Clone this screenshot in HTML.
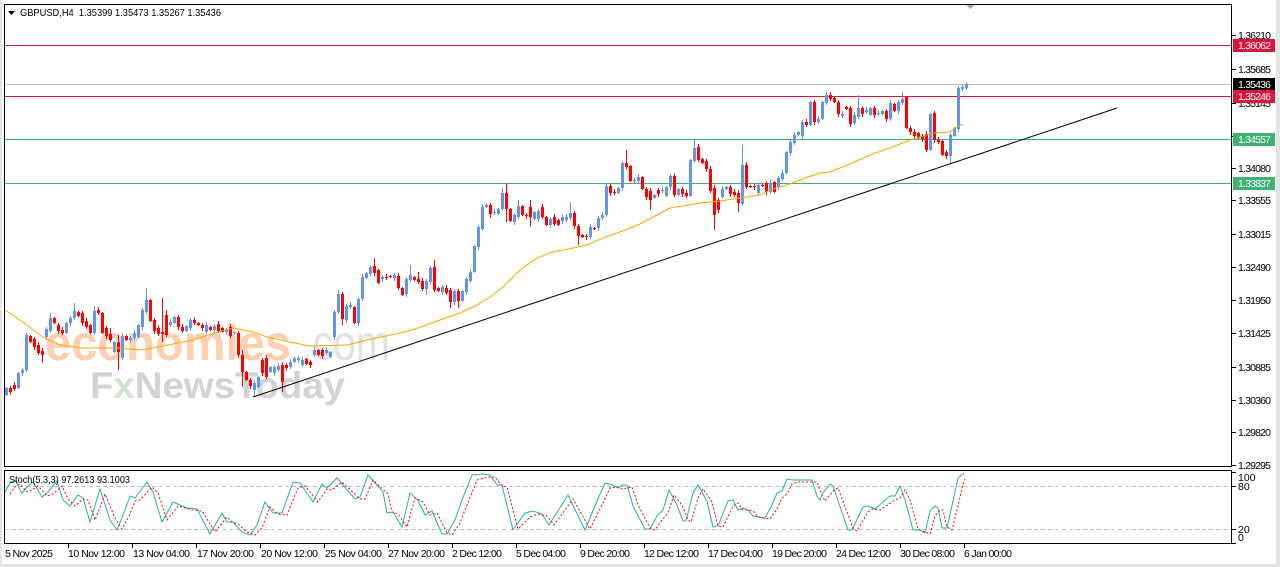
<!DOCTYPE html>
<html><head><meta charset="utf-8">
<style>
html,body{margin:0;padding:0;background:#fff;width:1280px;height:567px;overflow:hidden}
svg{display:block}
text{font-family:"Liberation Sans",Arial,sans-serif;font-size:10.5px;fill:#000}
</style></head><body>
<svg width="1280" height="567" viewBox="0 0 1280 567">
<defs>
<clipPath id="cm"><rect x="4" y="4" width="1228" height="463"/></clipPath>
<clipPath id="cs"><rect x="4" y="471" width="1228" height="73"/></clipPath>
</defs>
<rect width="1280" height="567" fill="#fff"/>
<rect x="0" y="0" width="2" height="567" fill="#e4e4e4"/>
<rect x="1276" y="0" width="4" height="567" fill="#e4e4e4"/>
<rect x="0" y="564" width="1280" height="3" fill="#e4e4e4"/>

<!-- watermark -->
<text x="45" y="360" textLength="246" lengthAdjust="spacingAndGlyphs" style="font-size:50px;font-weight:bold;fill:#fcd0b0">economies</text>
<text x="301" y="360" textLength="89" lengthAdjust="spacingAndGlyphs" style="font-size:50px;fill:#e2e2e2">.com</text>
<text x="90" y="398" textLength="255" lengthAdjust="spacingAndGlyphs" style="font-size:37px;font-weight:bold;fill:#d3d3d3">F<tspan style="fill:#cfe3cf">x</tspan>NewsToday</text>

<!-- horizontal levels -->
<g shape-rendering="crispEdges">
<line x1="4" y1="45.5" x2="1232" y2="45.5" stroke="#dc143c"/>
<line x1="4" y1="84.5" x2="1232" y2="84.5" stroke="#c0c0c0"/>
<line x1="4" y1="96.5" x2="1232" y2="96.5" stroke="#dc143c"/>
<line x1="4" y1="139.5" x2="1232" y2="139.5" stroke="#3cb371"/>
<line x1="4" y1="183.5" x2="1232" y2="183.5" stroke="#3cb371"/>
</g>

<!-- candles -->
<g clip-path="url(#cm)" shape-rendering="crispEdges">
<path id="bw" d="" stroke="#6495ed" stroke-width="1" fill="none"/>
<path id="rw" d="" stroke="#ff0000" stroke-width="1" fill="none"/>
<path id="bb" d="" fill="#6495ed"/>
<path id="rb" d="" fill="#ff0000"/>
</g>

<!-- MA -->
<polyline clip-path="url(#cm)" fill="none" stroke="#ffa500" stroke-width="1" points="5,310 20,320 43,337 60,345 83,348 117,348 143,350 173,344 193,340 215,333 233,328 253,332 267,337 290,342 310,346 347,345 367,340 400,333 415,329 440,320 460,313 477,305 490,297 503,287 520,270 537,258 553,252 573,248 587,245 603,238 620,232 640,224 670,208 700,203 720,201 760,195 770,190 790,184 800,180 820,173 830,172 850,164 870,155 895,146 910,140 933,133 950,132 955,128 963,124"/>

<!-- trend line -->
<line x1="253" y1="397" x2="1117" y2="108" stroke="#000" stroke-width="1"/>

<!-- shift marker -->
<polygon points="965,4 976,4 970.5,9" fill="#a8a8a8"/>

<!-- pane borders -->
<g shape-rendering="crispEdges" fill="none" stroke="#000">
<rect x="4.5" y="4.5" width="1227" height="462"/>
<rect x="4.5" y="470.5" width="1227" height="73"/>
</g>

<!-- header -->
<polygon points="8,11 15,11 11.5,15" fill="#000"/>
<text x="20" y="16" textLength="201" lengthAdjust="spacingAndGlyphs">GBPUSD,H4&#160; 1.35399 1.35473 1.35267 1.35436</text>

<!-- right axis ticks & labels -->
<g shape-rendering="crispEdges" stroke="#000">
<line x1="1232" y1="35.5" x2="1236" y2="35.5"/><line x1="1232" y1="69.5" x2="1236" y2="69.5"/>
<line x1="1232" y1="103.5" x2="1236" y2="103.5"/><line x1="1232" y1="136.5" x2="1236" y2="136.5"/>
<line x1="1232" y1="168.5" x2="1236" y2="168.5"/><line x1="1232" y1="200.5" x2="1236" y2="200.5"/>
<line x1="1232" y1="234.5" x2="1236" y2="234.5"/><line x1="1232" y1="267.5" x2="1236" y2="267.5"/>
<line x1="1232" y1="300.5" x2="1236" y2="300.5"/><line x1="1232" y1="333.5" x2="1236" y2="333.5"/>
<line x1="1232" y1="367.5" x2="1236" y2="367.5"/><line x1="1232" y1="400.5" x2="1236" y2="400.5"/>
<line x1="1232" y1="432.5" x2="1236" y2="432.5"/><line x1="1232" y1="465.5" x2="1236" y2="465.5"/>
<line x1="1232" y1="472.5" x2="1236" y2="472.5"/><line x1="1232" y1="486.5" x2="1236" y2="486.5"/>
<line x1="1232" y1="529.5" x2="1236" y2="529.5"/><line x1="1232" y1="543.5" x2="1236" y2="543.5"/>
</g>
<g>
<text x="1238" y="39" textLength="33">1.36210</text>
<text x="1238" y="73" textLength="33">1.35685</text>
<text x="1238" y="107" textLength="33">1.35145</text>
<text x="1238" y="140" textLength="33">1.34610</text>
<text x="1238" y="172" textLength="33">1.34080</text>
<text x="1238" y="204" textLength="33">1.33555</text>
<text x="1238" y="238" textLength="33">1.33015</text>
<text x="1238" y="271" textLength="33">1.32490</text>
<text x="1238" y="304" textLength="33">1.31950</text>
<text x="1238" y="337" textLength="33">1.31425</text>
<text x="1238" y="371" textLength="33">1.30885</text>
<text x="1238" y="404" textLength="33">1.30360</text>
<text x="1238" y="436" textLength="33">1.29820</text>
<text x="1238" y="469" textLength="33">1.29295</text>
<text x="1238" y="481">100</text>
<text x="1238" y="490">80</text>
<text x="1238" y="533">20</text>
<text x="1238" y="541">0</text>
</g>
<!-- price boxes -->
<g shape-rendering="crispEdges">
<rect x="1233" y="39" width="42" height="13" fill="#dc143c"/>
<rect x="1233" y="78" width="42" height="12" fill="#000"/>
<rect x="1233" y="90" width="42" height="13" fill="#dc143c"/>
<rect x="1233" y="133" width="42" height="13" fill="#3cb371"/>
<rect x="1233" y="177" width="42" height="13" fill="#3cb371"/>
</g>
<text x="1238" y="49" textLength="33" style="fill:#fff">1.36062</text>
<text x="1238" y="88" textLength="33" style="fill:#fff">1.35436</text>
<text x="1238" y="100" textLength="33" style="fill:#fff">1.35246</text>
<text x="1238" y="143" textLength="33" style="fill:#fff">1.34557</text>
<text x="1238" y="187" textLength="33" style="fill:#fff">1.33837</text>

<!-- stochastic -->
<g shape-rendering="crispEdges">
<line x1="5" y1="486.5" x2="1231" y2="486.5" stroke="#c0c0c0" stroke-dasharray="4,3"/>
<line x1="5" y1="529.5" x2="1231" y2="529.5" stroke="#c0c0c0" stroke-dasharray="4,3"/>
</g>
<g clip-path="url(#cs)">
<polyline id="sk" fill="none" stroke="#20b2aa" stroke-width="1" points="5,492 10,483 15,480 22,493 27,487 33,482 42,497 48,492 57,481 63,500 70,506 78,495 83,498 90,522 100,489 110,520 117,530 125,510 130,496 135,498 147,482 153,492 162,522 173,502 187,508 197,509 210,534 222,513 227,522 233,522 242,532 250,535 257,525 265,502 273,513 282,513 293,482 300,483 313,502 322,484 327,488 337,478 355,499 360,497 368,475 383,492 387,513 393,512 402,527 410,493 418,500 425,515 432,511 442,534 447,534 455,520 462,500 472,475 483,474 490,475 497,485 502,485 513,530 525,513 533,511 542,514 549,525 568,495 585,530 597,501 605,483 613,485 618,488 622,485 627,485 633,506 645,529 650,529 657,516 663,510 669,490 677,505 683,521 686,521 693,493 698,485 707,501 713,527 718,526 728,501 733,500 738,510 743,508 748,510 753,516 765,518 772,505 777,493 782,491 787,479 793,480 808,480 812,480 817,496 820,500 823,493 830,484 833,486 848,530 852,530 863,507 868,506 875,509 890,496 895,496 900,486 905,500 913,530 920,530 925,533 930,511 935,506 938,508 942,528 947,528 953,501 958,478 964,473"/>
<polyline id="sd" fill="none" stroke="#ff0000" stroke-width="1" stroke-dasharray="2,2" transform="translate(5,2)" points="5,492 10,485 15,482 22,490 27,488 33,484 42,494 48,492 57,484 63,497 70,504 78,497 83,498 90,518 100,492 110,516 117,527 125,512 130,499 135,498 147,485 153,491 162,518 173,504 187,508 197,509 210,530 222,515 227,520 233,522 242,530 250,533 257,526 265,505 273,512 282,513 293,486 300,484 313,500 322,487 327,488 337,480 355,497 360,497 368,478 383,492 387,510 393,512 402,525 410,496 418,500 425,513 432,511 442,531 447,533 455,521 462,503 472,478 483,475 490,475 497,484 502,485 513,527 525,515 533,512 542,514 549,523 568,497 585,527 597,503 605,486 613,485 618,487 622,486 627,485 633,503 645,526 650,528 657,518 663,511 669,493 677,503 683,518 686,520 693,496 698,487 707,500 713,524 718,525 728,504 733,501 738,508 743,508 748,509 753,515 765,517 772,507 777,496 782,492 787,482 793,480 808,480 812,480 817,493 820,499 823,495 830,487 833,486 848,526 852,529 863,510 868,507 875,508 890,498 895,496 900,488 905,498 913,527 920,530 925,532 930,514 935,508 938,508 942,525 947,528 953,504 958,482 960,477"/>
</g>
<text x="9" y="483" textLength="121" lengthAdjust="spacingAndGlyphs">Stoch(5,3,3) 97.2613 93.1003</text>

<!-- bottom axis -->
<g shape-rendering="crispEdges" stroke="#000">
<line x1="68.5" y1="544" x2="68.5" y2="548"/><line x1="132.5" y1="544" x2="132.5" y2="548"/>
<line x1="196.5" y1="544" x2="196.5" y2="548"/><line x1="260.5" y1="544" x2="260.5" y2="548"/>
<line x1="324.5" y1="544" x2="324.5" y2="548"/><line x1="388.5" y1="544" x2="388.5" y2="548"/>
<line x1="452.5" y1="544" x2="452.5" y2="548"/><line x1="516.5" y1="544" x2="516.5" y2="548"/>
<line x1="580.5" y1="544" x2="580.5" y2="548"/><line x1="644.5" y1="544" x2="644.5" y2="548"/>
<line x1="708.5" y1="544" x2="708.5" y2="548"/><line x1="772.5" y1="544" x2="772.5" y2="548"/>
<line x1="836.5" y1="544" x2="836.5" y2="548"/><line x1="900.5" y1="544" x2="900.5" y2="548"/>
<line x1="964.5" y1="544" x2="964.5" y2="548"/>
</g>
<g>
<text x="5" y="557" textLength="48">5 Nov 2025</text>
<text x="68" y="557" textLength="57">10 Nov 12:00</text>
<text x="133" y="557" textLength="57">13 Nov 04:00</text>
<text x="197" y="557" textLength="57">17 Nov 20:00</text>
<text x="261" y="557" textLength="57">20 Nov 12:00</text>
<text x="325" y="557" textLength="57">25 Nov 04:00</text>
<text x="388" y="557" textLength="57">27 Nov 20:00</text>
<text x="452" y="557" textLength="50">2 Dec 12:00</text>
<text x="516" y="557" textLength="50">5 Dec 04:00</text>
<text x="580" y="557" textLength="50">9 Dec 20:00</text>
<text x="644" y="557" textLength="55">12 Dec 12:00</text>
<text x="708" y="557" textLength="55">17 Dec 04:00</text>
<text x="772" y="557" textLength="55">19 Dec 20:00</text>
<text x="836" y="557" textLength="55">24 Dec 12:00</text>
<text x="900" y="557" textLength="55">30 Dec 08:00</text>
<text x="964" y="557" textLength="48">6 Jan 00:00</text>
</g>
</svg>
<script>
(function(){
var D="395 388|388 392|385 389|388 373|373 370|370 335 333 372|336 342|339 347|345 353|351 355 348 363|337 329|331 318 313 333|318 323|325 331|330 333|333 323|323 318|318 311 303 320|312 316|313 323|321 327|325 333|333 311 306 335|310 313|313 333|328 336|334 340 328 342|352 342|342 352 335 370|358 336|336 340|340 338|338 333|337 325|327 310|312 300 288 314|300 321|320 331|328 334|332 334 298 342|315 335 310 337|325 322|323 317|317 327|327 331|331 326|328 320|320 323|323 325|325 328|332 325|327 330|330 326|324 331|328 332|332 330|327 336|333 332|333 355|355 372 350 387|372 380|380 386|390 383 380 397|387 377|360 373|358 377|372 367|373 367|370 366|365 382 362 392|365 368|367 362|362 358|360 358|365 360|359 364|362 365|355 350|350 355|350 356|353 350|357 352|337 312|312 294 290 314|294 319 292 325|320 306|307 305|307 323|323 299|299 277|278 273|274 267 265 276|266 273 258 276|270 283|279 277|277 278|276 277|278 275|276 288|288 295|294 279|280 275 265 282|277 280|279 282 272 284|281 289|289 281 279 295|282 268|267 290 260 292|288 291|292 287|288 293|290 302 288 308|302 291|291 301 289 308|301 291|292 279|281 272|272 246|247 227|229 207|207 205|205 214 203 218|213 212|214 209|209 193 188 211|193 209 183 222|209 221|222 215|217 206 200 219|206 215|215 216|207 217 200 227|219 212|219 211|207 217|217 225|225 219|217 224|220 225|221 217|220 217|218 213 202 220|213 226|226 236 224 245|235 237|236 237|237 227|228 229|228 218|218 215|215 186 183 217|186 193|192 193|193 188|188 163|163 167 150 169|166 181|181 180|181 177|177 189|189 197|191 200 188 210|198 195|190 194|191 190|196 187|187 176|176 195|195 189|189 194|193 196|196 160|161 148 140 163|147 160|159 163|161 169|169 191|188 215 185 230|200 210|197 189|189 187|187 194|192 195|193 203 190 212|204 165 145 206|165 187|186 187|186 187|193 185|185 186|183 192|192 183|182 192|187 178|179 173|173 152|153 142|143 135|135 132|136 122|122 125|125 102|102 122|122 119|119 102|103 95 91 105|95 99|98 102|102 114|116 114|107 109|108 124|123 115|117 108 95 119|108 114|112 110|115 108|108 115|114 113|114 111|111 119|119 103|104 111|111 102|103 99 92 105|97 128|128 132|132 136|133 138|136 139|134 150|150 114|113 140|140 142|141 155|152 156|156 135 133 163|136 128|129 88|89 87|88 84 82 90";
var bw="",bb="",rw="",rb="";
D.split("|").forEach(function(s,i){
var a=s.split(" ").map(Number),o=a[0],c=a[1];
var t=Math.min(o,c),b=Math.max(o,c);
var h=a.length>2?a[2]:t-1-(i*7%3);
var l=a.length>3?a[3]:b+1+(i*5%3);
var x=5+4*i;
var w="M"+(x+1.5)+" "+h+"V"+l;
var bd="M"+x+" "+t+"h3v"+Math.max(1,b-t)+"h-3z";
if(c<=o){bw+=w;bb+=bd;}else{rw+=w;rb+=bd;}
});
document.getElementById("bw").setAttribute("d",bw);
document.getElementById("bb").setAttribute("d",bb);
document.getElementById("rw").setAttribute("d",rw);
document.getElementById("rb").setAttribute("d",rb);
})();
</script>
</body></html>
